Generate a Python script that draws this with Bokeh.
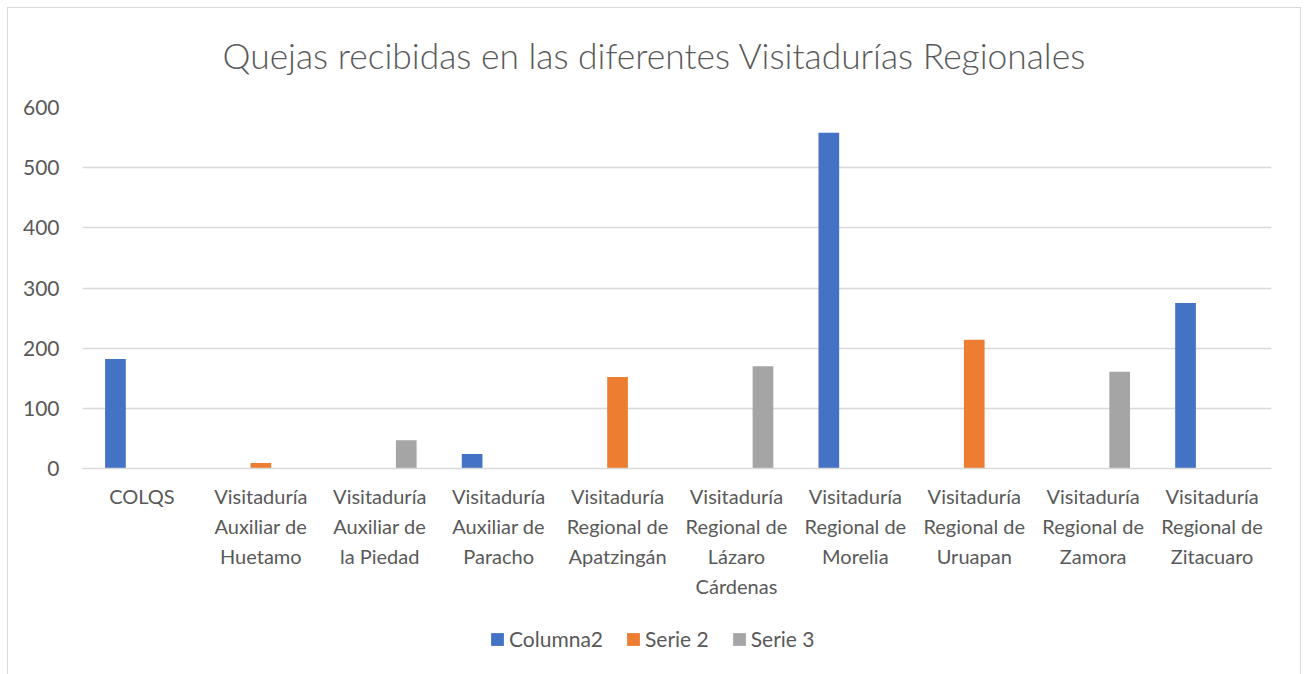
from bokeh.plotting import figure
from bokeh.models import ColumnDataSource, FactorRange, Range1d, FixedTicker, Legend, LegendItem
from bokeh.layouts import column
from bokeh.transform import dodge
from bokeh.embed import file_html
from bokeh.resources import INLINE

# ---- data ----
categories = [
    "COLQS",
    "Visitaduría\nAuxiliar de\nHuetamo",
    "Visitaduría\nAuxiliar de\nla Piedad",
    "Visitaduría\nAuxiliar de\nParacho",
    "Visitaduría\nRegional de\nApatzingán",
    "Visitaduría\nRegional de\nLázaro\nCárdenas",
    "Visitaduría\nRegional de\nMorelia",
    "Visitaduría\nRegional de\nUruapan",
    "Visitaduría\nRegional de\nZamora",
    "Visitaduría\nRegional de\nZitacuaro",
]
series_names = ["Columna2", "Serie 2", "Serie 3"]
columna2 = [182, 0, 0, 24, 0, 0, 558, 0, 0, 275]
serie2 = [0, 9, 0, 0, 152, 0, 0, 214, 0, 0]
serie3 = [0, 0, 47, 0, 0, 170, 0, 0, 161, 0]
y_ticks = [0, 100, 200, 300, 400, 500, 600]
title_text = "Quejas recibidas en las diferentes Visitadurías Regionales"

colors = ["#4472C4", "#ED7D31", "#A5A5A5"]
TXT = "#595959"
FONT = "Lato"

src = ColumnDataSource(dict(cat=categories, s1=columna2, s2=serie2, s3=serie3))

MAIN_H = 616
p = figure(
    x_range=FactorRange(*categories),
    y_range=Range1d(0, 600),
    width=1308, height=MAIN_H,
    output_backend="svg", toolbar_location=None,
    min_border_left=82, min_border_right=37, min_border_top=106, min_border_bottom=MAIN_H - 468,
)
p.border_fill_alpha = 0
p.background_fill_color = "white"

p.title.text = title_text
p.title.align = "left"
p.title.offset = 140
p.title.text_font = "Lato Light"
p.title.text_font_size = "35.4px"
p.title.text_font_style = "normal"
p.title.text_color = TXT
p.title.standoff = 62

bw = 0.174
off = 0.223
r1 = p.vbar(x=dodge("cat", -off, range=p.x_range), top="s1", width=bw, source=src,
            fill_color=colors[0], line_color=None)
r2 = p.vbar(x=dodge("cat", 0.0, range=p.x_range), top="s2", width=bw, source=src,
            fill_color=colors[1], line_color=None)
r3 = p.vbar(x=dodge("cat", off, range=p.x_range), top="s3", width=bw, source=src,
            fill_color=colors[2], line_color=None)

p.outline_line_color = None
p.xgrid.grid_line_color = None
p.ygrid.grid_line_color = "#d9d9d9"
p.ygrid.grid_line_width = 1.3

p.yaxis.ticker = FixedTicker(ticks=y_ticks)
p.yaxis.axis_line_color = None
p.yaxis.major_tick_line_color = None
p.yaxis.minor_tick_line_color = None
p.yaxis.major_label_text_font = FONT
p.yaxis.major_label_text_font_size = "21px"
p.yaxis.major_label_text_color = TXT
p.yaxis.major_label_standoff = 17

p.xaxis.axis_line_color = "#d9d9d9"
p.xaxis.axis_line_width = 1.3
p.xaxis.major_tick_line_color = None
p.xaxis.minor_tick_line_color = None
p.xaxis.major_label_text_font = FONT
p.xaxis.major_label_text_font_size = "20px"
p.xaxis.major_label_text_color = TXT
p.xaxis.major_label_text_line_height = 1.25
p.xaxis.major_label_standoff = 9
p.xaxis.major_label_orientation = "horizontal"

# legend strip below the chart
q = figure(
    width=1308, height=674 - MAIN_H,
    x_axis_type=None, y_axis_type=None,
    x_range=Range1d(0, 1), y_range=Range1d(0, 1),
    output_backend="svg", toolbar_location=None,
    min_border_left=0, min_border_right=0, min_border_top=0, min_border_bottom=0,
)
q.border_fill_alpha = 0
q.background_fill_alpha = 0
q.outline_line_color = None
q.xgrid.grid_line_color = None
q.ygrid.grid_line_color = None
# proxy renderers (placed outside the visible range) only used for legend swatches
proxy = ColumnDataSource(dict(x=[-10.0], top=[0.0]))
lr = [q.vbar(x="x", top="top", width=0.1, source=proxy, fill_color=c, line_color=None) for c in colors]

legend = Legend(
    items=[LegendItem(label=series_names[i], renderers=[r]) for i, r in enumerate(lr)],
    orientation="horizontal",
    location=(407, 23),
    label_text_font=FONT, label_text_font_size="21px", label_text_color=TXT,
    glyph_width=16, glyph_height=16, label_standoff=4, spacing=22,
    padding=0, margin=0, border_line_color=None, background_fill_alpha=0,
)
q.add_layout(legend, "center")

layout = column(p, q, spacing=0)
g = "linear-gradient(#d9d9d9,#d9d9d9)"
layout.styles = {
    "background": f"{g} 8px 7px / 1292px 1px no-repeat, {g} 7px 7px / 1px 667px no-repeat, "
                  f"{g} 1300px 7px / 1px 667px no-repeat, white",
}

open("out.html", "w").write(file_html(layout, INLINE))
